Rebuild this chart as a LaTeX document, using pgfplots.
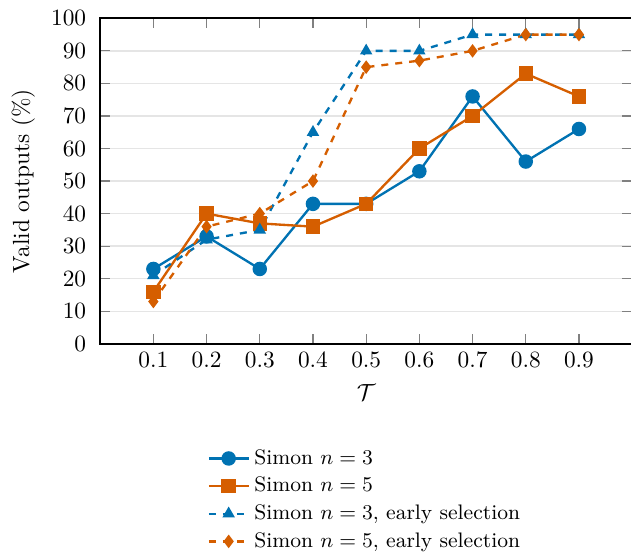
\documentclass[border=0pt]{standalone}
\usepackage{pgfplots}
\pgfplotsset{compat=1.18}
\definecolor{cblue}{RGB}{0,114,178}
\definecolor{corange}{RGB}{213,94,0}
\begin{document}
\begin{tikzpicture}
\begin{axis}[
  scale only axis,
  width=228pt, height=139.5pt,
  xmin=0, xmax=1, ymin=0, ymax=100,
  xtick={0.1,0.2,0.3,0.4,0.5,0.6,0.7,0.8,0.9},
  xticklabels={0.1,0.2,0.3,0.4,0.5,0.6,0.7,0.8,0.9},
  ytick={0,10,...,100},
  yticklabel style={xshift=-2.5pt},
  ymajorgrids,
  grid style={gray!20, line width=0.6pt},
  major tick style={gray, line width=0.5pt},
  axis line style={line width=1pt},
  xlabel={$\mathcal{T}$},
  ylabel={Valid outputs (\%)},
  legend style={at={(0.5,-0.294)}, anchor=north, draw=none, font=\small, row sep=0pt},
  legend cell align=left,
]
\addplot[cblue, line width=1pt, mark=*, mark size=2.6pt] coordinates {
(0.1,23)(0.2,33)(0.3,23)(0.4,43)(0.5,43)(0.6,53)(0.7,76)(0.8,56)(0.9,66)};
\addlegendentry{Simon $n=3$}
\addplot[corange, line width=1pt, mark=square*, mark size=2.6pt] coordinates {
(0.1,16)(0.2,40)(0.3,37)(0.4,36)(0.5,43)(0.6,60)(0.7,70)(0.8,83)(0.9,76)};
\addlegendentry{Simon $n=5$}
\addplot[cblue, line width=1pt, dashed, mark=triangle*, mark size=2.1pt, mark options={solid}] coordinates {
(0.1,21)(0.2,32)(0.3,35)(0.4,65)(0.5,90)(0.6,90)(0.7,95)(0.8,95)(0.9,95)};
\addlegendentry{Simon $n=3$, early selection}
\addplot[corange, line width=1pt, dashed, mark=diamond*, mark size=2.1pt, mark options={solid}] coordinates {
(0.1,13)(0.2,36)(0.3,40)(0.4,50)(0.5,85)(0.6,87)(0.7,90)(0.8,95)(0.9,95)};
\addlegendentry{Simon $n=5$, early selection}
\end{axis}
\coordinate (bbsw) at (current bounding box.south west);
\coordinate (bbne) at (current bounding box.north east);
\pgfresetboundingbox
\path[use as bounding box] ([xshift=-1.7pt]bbsw) rectangle ([xshift=-1pt,yshift=1.3pt]bbne);
\end{tikzpicture}
\end{document}
